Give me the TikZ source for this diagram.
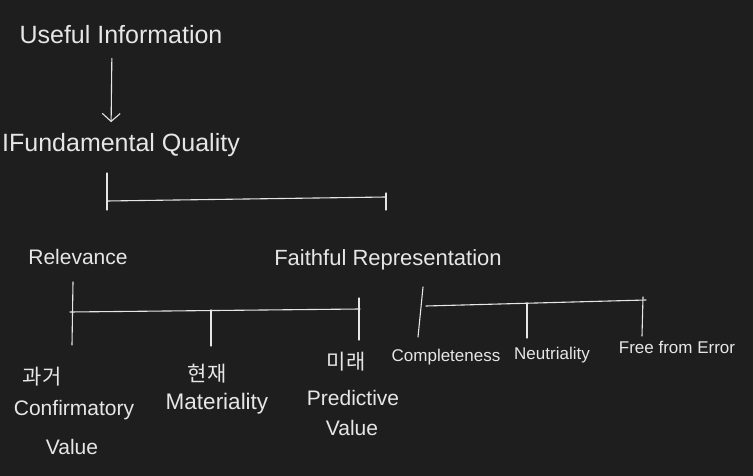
\documentclass[tikz,border=0pt]{standalone}
\usepackage{fontspec}
\setmainfont{Liberation Sans}
\newfontfamily\kofont{Noto Sans CJK KR}
\usetikzlibrary{arrows.meta}
\definecolor{bg}{HTML}{1E1E1E}
\definecolor{fg}{HTML}{E6E6E6}
\begin{document}
\begin{tikzpicture}[x=1pt,y=-1pt,
  txt/.style={text=fg, inner sep=0pt, anchor=center},
  big/.style={txt, font=\fontsize{25}{27}\selectfont},
  mid/.style={txt, font=\fontsize{21}{23}\selectfont},
  sml/.style={txt, font=\fontsize{17}{19}\selectfont},
  ko/.style={txt, font=\kofont\fontsize{21}{23}\selectfont},
  ln/.style={draw=fg, line width=1.1pt, line cap=round}]
\fill[bg] (0,0) rectangle (753,476);
\useasboundingbox (0,0) rectangle (753,476);

% top
\node[big] (useful) at (121,35) {Useful Information};
\node[big] (fund) at (121,145) {IFundamental Quality};
\draw[ln,-{Straight Barb[length=8pt,width=18pt]}, shorten <=14pt, shorten >=11pt] ([xshift=-9pt]useful.south) -- ([xshift=-10pt]fund.north);

% level 2
\node[mid] (rel) at (78,257) {Relevance};
\node[txt, font=\fontsize{22}{24}\selectfont] (faith) at (388,260) {Faithful Representation};

\coordinate (b1top) at (107,173);
\coordinate (b1l) at (107,201);
\coordinate (b1r) at (386,197);
\draw[ln] (b1top) -- (107,210);
\draw[ln] (b1l) -- (b1r);
\draw[ln] (386,193) -- (386,210);

% level 3 (relevance)
\node[ko] (k1) at (42,377) {과거};
\node[mid] (conf) at (74,410) {Confirmatory};
\node[mid] (val1) at (72,447) {Value};
\node[ko] (k2) at (207,374) {현재};
\node[txt, font=\fontsize{22.5}{24}\selectfont] (mat) at (217,404) {Materiality};
\node[ko] (k3) at (346,362) {미래};
\node[mid] (pred) at (353,398) {Predictive};
\node[mid] (val2) at (352,428) {Value};

\coordinate (b2top) at (73,282);
\coordinate (b2l) at (70,312);
\coordinate (b2r) at (360,309);
\draw[ln] (b2top) -- (72,345);
\draw[ln] (b2l) -- (b2r);
\draw[ln] (211,310) -- (211,346);
\draw[ln] (359,298) -- (359,340);

% level 3 (faithful representation)
\node[sml] (comp) at (446,357) {Completeness};
\node[sml] (neut) at (552,355) {Neutriality};
\node[sml] (free) at (677,347) {Free from Error};

\coordinate (b3top) at (423,287);
\coordinate (b3l) at (426,306);
\coordinate (b3r) at (646,300);
\draw[ln] (b3top) -- (418,337);
\draw[ln] (b3l) -- (b3r);
\draw[ln] (527,303) -- (527,338);
\draw[ln] (643,297) -- (642,336);
\end{tikzpicture}
\end{document}
